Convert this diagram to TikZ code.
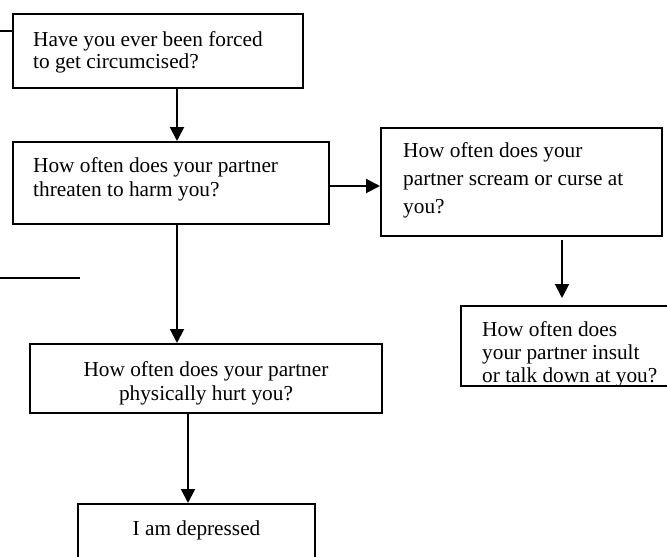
\documentclass[tikz,border=0pt]{standalone}
\usepackage{fontspec}
\setmainfont{Liberation Serif}
\usetikzlibrary{arrows.meta}
\tikzset{
  boxshape/.style={draw, line width=2pt, rectangle, inner sep=0pt},
  txt/.style={inner sep=0pt, font=\fontsize{21.3}{#1}\selectfont},
  txt/.default={23.5},
  arr/.style={line width=2pt, -{Triangle[length=14pt,width=14pt]}},
  plain/.style={line width=2pt}
}
\begin{document}
\begin{tikzpicture}[x=1pt,y=-1pt]
\useasboundingbox (0,0) rectangle (667,557);
\clip (0,0) rectangle (667,557);
% boxes
\node[boxshape, minimum width=290pt, minimum height=74pt] (b1) at (158,51) {};
\node[boxshape, minimum width=316pt, minimum height=82pt] (b2) at (171,183) {};
\node[boxshape, minimum width=281pt, minimum height=108pt] (b4) at (521.5,182) {};
\node[boxshape, minimum width=352pt, minimum height=69pt] (b3) at (206,378.5) {};
\node[boxshape, minimum width=212pt, minimum height=80pt] (b5) at (567,346) {};
\node[boxshape, minimum width=237pt, minimum height=70pt] (b6) at (196.5,539) {};
% texts
\node[txt={22.6}, anchor=north west, align=left] (t1) at (33,31.2) {Have you ever been forced\\to get circumcised?};
\node[txt={23.5}, anchor=north west, align=left] (t2) at (33,157.5) {How often does your partner\\threaten to harm you?};
\node[txt={28}, anchor=north west, align=left] (t4) at (403,142.5) {How often does your\\partner scream or curse at\\you?};
\node[txt={24}, anchor=north, align=center] (t3) at (206,361.5) {How often does your partner\\physically hurt you?};
\node[txt={23}, anchor=north west, align=left] (t5) at (482,321) {How often does\\your partner insult\\or talk down at you?};
\node[txt={24}, anchor=north] (t6) at (196.5,520.5) {I am depressed};
% helper coordinates
\coordinate (xa) at (177,0);
\coordinate (xb) at (188,0);
\coordinate (yr) at (0,186);
\coordinate (c5s) at (562,240);
\coordinate (c5e) at (562,298);
\coordinate (s1) at (0,31);
\coordinate (s2a) at (0,278);
\coordinate (s2b) at (80,278);
% connectors
\draw[plain] (s1) -- (b1.west |- s1);
\draw[plain] (s2a) -- (s2b);
\draw[arr] (b1.south -| xa) -- (b2.north -| xa);
\draw[arr] (b2.east |- yr) -- (b4.west |- yr);
\draw[arr] (b2.south -| xa) -- (b3.north -| xa);
\draw[arr] (b3.south -| xb) -- (b6.north -| xb);
\draw[arr] (c5s) -- (c5e);
\end{tikzpicture}
\end{document}
